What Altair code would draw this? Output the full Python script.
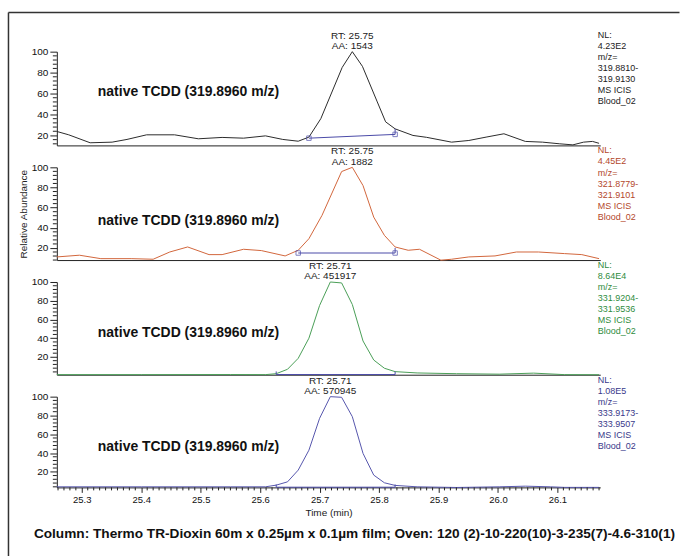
import math
import altair as alt
import pandas as pd

FONT = "Liberation Sans"
X_MIN, X_MAX = 25.258, 26.172

# ---- chromatogram traces (time in min, relative abundance) ----
time_1 = [25.258, 25.278, 25.314, 25.351, 25.376, 25.409, 25.456, 25.496, 25.536, 25.572,
          25.609, 25.638, 25.664, 25.682, 25.702, 25.738, 25.755, 25.772, 25.797, 25.811,
          25.827, 25.857, 25.880, 25.922, 25.951, 25.980, 26.010, 26.046, 26.075, 26.104,
          26.126, 26.144, 26.159, 26.170]
abund_1 = [23.8, 20.6, 13.0, 13.6, 16.2, 20.6, 20.6, 16.8, 18.1, 17.4,
           19.6, 16.2, 14.5, 18.4, 36.0, 85.0, 100.0, 86.0, 52.0, 33.0,
           26.3, 20.0, 18.2, 13.6, 15.2, 18.4, 21.6, 14.3, 13.6, 12.0,
           11.0, 13.6, 14.3, 12.5]

time_2 = [25.258, 25.296, 25.332, 25.383, 25.420, 25.448, 25.478, 25.514, 25.536, 25.572,
          25.602, 25.642, 25.664, 25.682, 25.704, 25.737, 25.755, 25.773, 25.791, 25.809,
          25.827, 25.849, 25.868, 25.904, 25.922, 25.951, 25.995, 26.031, 26.068, 26.112,
          26.141, 26.170]
abund_2 = [11.1, 12.8, 9.4, 9.4, 8.8, 16.0, 21.0, 13.4, 13.4, 18.7,
           17.4, 12.1, 17.7, 29.2, 52.3, 95.8, 100.0, 81.9, 50.6, 32.5,
           21.0, 17.7, 18.7, 7.9, 8.8, 11.1, 12.1, 16.0, 16.0, 14.4,
           13.4, 9.4]

time_3 = [25.258, 25.400, 25.550, 25.609, 25.627, 25.646, 25.664, 25.682, 25.700, 25.718,
          25.737, 25.755, 25.773, 25.791, 25.809, 25.827, 25.864, 25.930, 26.002, 26.060,
          26.112, 26.170]
abund_3 = [1.1, 1.1, 1.2, 1.1, 2.1, 6.8, 18.5, 40.0, 75.0, 100.0,
           99.0, 76.0, 37.0, 16.7, 7.9, 4.3, 2.9, 2.1, 1.6, 2.7,
           1.1, 1.0]

time_4 = [25.258, 25.400, 25.550, 25.609, 25.627, 25.646, 25.664, 25.682, 25.700, 25.718,
          25.737, 25.755, 25.773, 25.791, 25.809, 25.827, 25.864, 25.930, 26.002, 26.046,
          26.088, 26.112, 26.170]
abund_4 = [4.0, 4.0, 4.0, 4.0, 5.8, 9.3, 21.8, 43.0, 77.0, 100.0,
           99.3, 78.7, 39.6, 16.5, 8.3, 5.5, 4.0, 3.3, 4.0, 4.7,
           4.0, 3.4, 3.4]

times = [time_1, time_2, time_3, time_4]
abunds = [abund_1, abund_2, abund_3, abund_4]

# ---- per-panel annotations ----
panel_colors = ["#2b2b2b", "#d2663c", "#4a9f57", "#5656ad"]
label_colors = ["#222222", "#b3472b", "#2f8c40", "#39398a"]
y_floor = [10.5, 8.0, 1.0, 3.4]
panel_heights = [94, 93, 93, 91]
rt_time = [25.755, 25.755, 25.718, 25.718]
rt_text = ["RT: 25.75", "RT: 25.75", "RT: 25.71", "RT: 25.71"]
aa_text = ["AA: 1543", "AA: 1882", "AA: 451917", "AA: 570945"]
nl_text = ["4.23E2", "4.45E2", "8.64E4", "1.08E5"]
mz_from = ["319.8810-", "321.8779-", "331.9204-", "333.9173-"]
mz_to = ["319.9130", "321.9101", "331.9536", "333.9507"]
scan_text = "MS  ICIS"
sample_text = "Blood_02"
compound = "native TCDD (319.8960 m/z)"
compound_time = 25.327
compound_level = [61.0, 47.0, 45.5, 46.5]

# integration baselines
base_start_t = [25.682, 25.664, 25.627, 25.627]
base_end_t = [25.827, 25.827, 25.827, 25.827]
base_start_y = [17.4, 15.0, 1.2, 3.6]
base_end_y = [21.0, 15.0, 1.2, 3.6]
end_tick_top = [26.3, 20.0, 4.5, 6.5]
base_color = "#4a4aa8"

y_major = [20, 40, 60, 80, 100]
x_tick_labels = ["25.3", "25.4", "25.5", "25.6", "25.7", "25.8", "25.9", "26.0", "26.1"]
x_title = "Time (min)"
y_title = "Relative Abundance"
caption = ("Column: Thermo TR-Dioxin 60m x 0.25\u00b5m x 0.1\u00b5m film; "
           "Oven: 120 (2)-10-220(10)-3-235(7)-4.6-310(1)")

WIDTH = 545
major_x = [float(v) for v in x_tick_labels]
minor_x = [round(25.26 + 0.01 * k, 2) for k in range(0, 92)]


def make_panel(i):
    h = panel_heights[i]
    xs = alt.Scale(domain=[X_MIN, X_MAX], nice=False, zero=False)
    ys = alt.Scale(domain=[y_floor[i], 100], nice=False, zero=False)
    y_minor = [v for v in range(int(math.ceil(y_floor[i] / 4)) * 4, 101, 4) if v % 20 != 0]
    y_axis = alt.Axis(
        values=y_major, tickCount=30, tickSize=7, format="d",
        grid=False, labelOverlap=False, labelFlush=False,
        labelFont=FONT, labelFontSize=10, labelColor="#111111", labelPadding=2,
        domainColor="#222222", tickColor="#222222",
        title=y_title if i == 1 else None,
        titleFont=FONT, titleFontSize=10, titleFontWeight="normal",
        titleColor="#222222", titlePadding=3,
    )
    if i == 3:
        x_axis = alt.Axis(
            values=major_x, tickCount=30, format=".1f", tickSize=5,
            grid=False, labelOverlap=False, labelFlush=False,
            labelFont=FONT, labelFontSize=9.5, labelColor="#111111", labelPadding=2,
            domainColor="#222222", tickColor="#222222",
            title=x_title, titleFont=FONT, titleFontSize=10, titleFontWeight="normal",
            titleColor="#222222", titlePadding=4,
        )
    else:
        x_axis = alt.Axis(labels=False, ticks=False, grid=False, title=None,
                          domainColor="#222222")

    df = pd.DataFrame({"t": times[i], "a": abunds[i]})
    line = alt.Chart(df).mark_line(color=panel_colors[i], strokeWidth=1).encode(
        x=alt.X("t:Q", scale=xs, axis=x_axis),
        y=alt.Y("a:Q", scale=ys, axis=y_axis),
    )
    layers = [line]

    # minor y ticks
    ym = pd.DataFrame({"v": y_minor})
    layers.append(alt.Chart(ym).mark_rule(color="#222222", strokeWidth=1).encode(
        x=alt.value(-4), x2=alt.value(0), y=alt.Y("v:Q", scale=ys)))

    if i == 3:
        xm = pd.DataFrame({"v": [v for v in minor_x if all(abs(v - m) > 0.001 for m in major_x)]})
        layers.append(alt.Chart(xm).mark_rule(color="#222222", strokeWidth=1).encode(
            x=alt.X("v:Q", scale=xs), y=alt.value(h), y2=alt.value(h + 3)))

    seg = pd.DataFrame({"t": [base_start_t[i]], "t2": [base_end_t[i]],
                        "y": [base_start_y[i]], "y2": [base_end_y[i]]})
    layers.append(alt.Chart(seg).mark_rule(color=base_color, strokeWidth=1).encode(
        x=alt.X("t:Q", scale=xs), x2="t2:Q", y=alt.Y("y:Q", scale=ys), y2="y2:Q"))

    if i < 2:
        sq = pd.DataFrame({"t": [base_start_t[i], base_end_t[i]],
                           "y": [base_start_y[i], base_end_y[i]]})
        layers.append(alt.Chart(sq).mark_point(shape="square", size=20, filled=False,
                                               color=base_color, strokeWidth=1).encode(
            x=alt.X("t:Q", scale=xs), y=alt.Y("y:Q", scale=ys)))
        tk = pd.DataFrame({"t": [base_end_t[i]], "y": [base_end_y[i]], "y2": [end_tick_top[i]]})
    else:
        tk = pd.DataFrame({"t": [base_start_t[i], base_end_t[i]],
                           "y": [base_start_y[i], base_end_y[i]],
                           "y2": [end_tick_top[i], end_tick_top[i]]})
    layers.append(alt.Chart(tk).mark_rule(color=base_color, strokeWidth=1).encode(
        x=alt.X("t:Q", scale=xs), y=alt.Y("y:Q", scale=ys), y2="y2:Q"))

    rt = pd.DataFrame({"t": [rt_time[i]], "y": [100.0], "rt": [rt_text[i]], "aa": [aa_text[i]]})
    layers.append(alt.Chart(rt).mark_text(font=FONT, fontSize=10, color="#222222",
                                          dy=-16, baseline="middle").encode(
        x=alt.X("t:Q", scale=xs), y=alt.Y("y:Q", scale=ys), text="rt:N"))
    layers.append(alt.Chart(rt).mark_text(font=FONT, fontSize=10, color="#222222",
                                          dy=-5.5, baseline="middle").encode(
        x=alt.X("t:Q", scale=xs), y=alt.Y("y:Q", scale=ys), text="aa:N"))

    cp = pd.DataFrame({"t": [compound_time], "y": [compound_level[i]], "s": [compound]})
    layers.append(alt.Chart(cp).mark_text(font=FONT, fontSize=14, fontWeight="bold",
                                          color="#111111", align="left",
                                          baseline="middle").encode(
        x=alt.X("t:Q", scale=xs), y=alt.Y("y:Q", scale=ys), text="s:N"))

    side1 = pd.DataFrame({"s": ["NL:\n" + nl_text[i]]})
    side2 = pd.DataFrame({"s": ["m/z=\n" + mz_from[i] + "\n" + mz_to[i] + "\n"
                                + scan_text + "\n" + sample_text]})
    layers.append(alt.Chart(side1).mark_text(font=FONT, fontSize=9, color=label_colors[i],
                                             align="left", baseline="top", lineBreak="\n",
                                             lineHeight=11).encode(
        x=alt.value(542.5), y=alt.value(-21), text="s:N"))
    layers.append(alt.Chart(side2).mark_text(font=FONT, fontSize=9, color=label_colors[i],
                                             align="left", baseline="top", lineBreak="\n",
                                             lineHeight=11).encode(
        x=alt.value(542.5), y=alt.value(1.5), text="s:N"))

    if i == 0:
        frame = pd.DataFrame({"k": [0]})
        layers.append(alt.Chart(frame).mark_rule(color="#333333", strokeWidth=1.5).encode(
            x=alt.value(-48.5), x2=alt.value(624.5), y=alt.value(-39.3)))
        layers.append(alt.Chart(frame).mark_rule(color="#333333", strokeWidth=1.5).encode(
            x=alt.value(-48.5), y=alt.value(-39.3), y2=alt.value(505.7)))
    if i == 3:
        cap = pd.DataFrame({"s": [caption]})
        layers.append(alt.Chart(cap).mark_text(font=FONT, fontSize=13.7, fontWeight="bold",
                                               color="#111111", align="center",
                                               baseline="middle").encode(
            x=alt.value(298.5), y=alt.value(137.7), text="s:N"))

    return alt.layer(*layers).properties(width=WIDTH, height=h)


panels = [make_panel(i) for i in range(4)]
chart = alt.VConcatChart(vconcat=panels, spacing=22, bounds="flush").properties(
    padding={"left": 7, "top": 10, "right": 0, "bottom": 0},
    background="white",
).configure_view(stroke=None)

chart.save("out.html", embed_options={"renderer": "svg", "actions": False})
